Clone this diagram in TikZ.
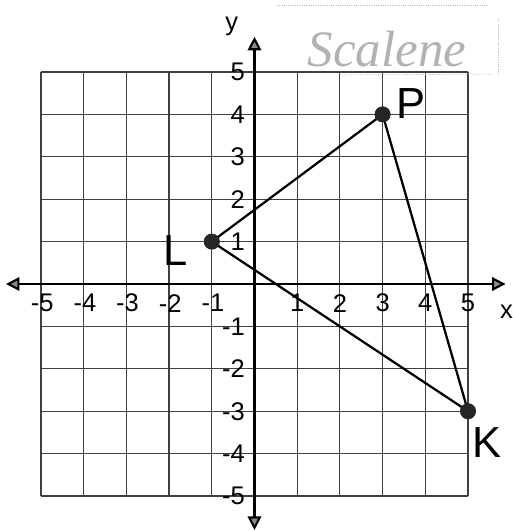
\documentclass[tikz,border=0pt]{standalone}
\usepackage{fontspec}
\setmainfont{Liberation Sans}
\newfontfamily\handfont{Liberation Serif}
\usetikzlibrary{arrows.meta}
\begin{document}
\begin{tikzpicture}[x=1cm,y=0.993cm,
 gridline/.style={black!75, line width=0.8pt},
 axisline/.style={black, line width=1.4pt, {Triangle[width=9pt,length=9pt,fill=black!45]}-{Triangle[width=9pt,length=9pt,fill=black!45]}},
 side/.style={black, line width=1.5pt},
 dot/.style={circle, fill=black!85, inner sep=0pt, minimum size=0.37cm},
 num/.style={font=\fontsize{17}{17}\selectfont, inner sep=0pt},
 ptlabel/.style={font=\fontsize{29}{29}\selectfont, inner sep=0pt},
 scan/.style={black!30, line width=0.5pt, densely dotted},
 hand/.style={font=\handfont\itshape\fontsize{34}{34}\selectfont, text=black!30, inner sep=0pt}]
\useasboundingbox (-5.96,-5.825) rectangle (6.054,6.698);
% grid
\foreach \k in {-5,...,5}{
  \draw[gridline] (\k,-5) -- (\k,5);
  \draw[gridline] (-5,\k) -- (5,\k);
}
% axes
\coordinate (xl) at (-5.82,0);
\coordinate (xr) at (5.88,0);
\coordinate (yb) at (0,-5.8);
\coordinate (yt) at (0,5.83);
\draw[axisline] (xl) -- (xr);
\draw[axisline] (yb) -- (yt);
\node[num] (xlab) at (5.9,-0.66) {x};
\node[num] (ylab) at (-0.53,6.08) {y};
% tick labels
\foreach \i in {1,...,5}{
  \node[num] (xp\i) at (\i,-0.45) {\i};
  \node[num, anchor=east] (xn\i) at (-\i+0.30,-0.45) {-\i};
  \node[num, anchor=east] (yp\i) at (-0.22,\i) {\i};
  \node[num, anchor=east] (yn\i) at (-0.22,-\i) {-\i};
}
% triangle
\node[dot] (L) at (-1,1) {};
\node[dot] (P) at (3,4) {};
\node[dot] (K) at (5,-3) {};
\draw[side] (L.center) -- (P.center) -- (K.center) -- (L.center);
\node[dot] at (L) {};
\node[dot] at (P) {};
\node[dot] at (K) {};
\node[ptlabel] (Llab) at (-1.84,0.80) {L};
\node[ptlabel] (Plab) at (3.66,4.25) {P};
\node[ptlabel] (Klab) at (5.44,-3.75) {K};
% handwritten note
\coordinate (b1) at (0.53,6.58);
\coordinate (b2) at (5.45,6.58);
\coordinate (b3) at (5.72,6.25);
\coordinate (b4) at (5.72,4.93);
\coordinate (b5) at (2.0,4.93);
\coordinate (b6) at (5.55,4.95);
\draw[scan] (b1) -- (b2);
\draw[scan] (b3) -- (b4);
\draw[scan] (b5) -- (b6);
\node[hand] (note) at (3.1,5.55) {Scalene};
\end{tikzpicture}
\end{document}
